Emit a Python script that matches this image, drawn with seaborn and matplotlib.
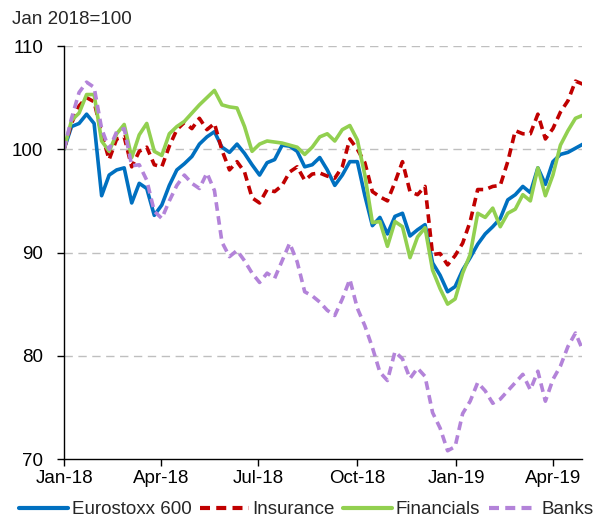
import numpy as np
import pandas as pd
import matplotlib
matplotlib.use("Agg")
import matplotlib.pyplot as plt
import matplotlib.dates as mdates
import seaborn as sns

# ---- data (weekly readings, index Jan 2018 = 100) ----
dates = pd.date_range("2018-01-01", periods=70, freq="7D")

eurostoxx = [100, 102.2, 102.5, 103.4, 102.5, 95.5, 97.5, 98, 98.2, 94.8,
             96.7, 96.2, 93.6, 94.6, 96.5, 98, 98.6, 99.3, 100.5, 101.2,
             101.7, 100.2, 99.7, 100.5, 99.6, 98.5, 97.5, 98.7, 99.0, 100.4,
             100.3, 99.8, 98.3, 98.5, 99.2, 98, 96.5, 97.5, 98.8, 98.8,
             95.5, 92.6, 93.4, 91.8, 93.5, 93.8, 91.6, 92.2, 92.7, 89,
             87.8, 86.2, 86.7, 88.3, 89.5, 90.8, 91.8, 92.5, 93.3, 95.1,
             95.6, 96.4, 95.8, 98.2, 96.6, 98.8, 99.5, 99.7, 100.1, 100.5]

insurance = [100, 102.5, 104.2, 105, 104.6, 101.5, 99, 101, 101.2, 98.3,
             99.8, 100.2, 98.5, 98.3, 100.3, 101.9, 102.6, 102, 103, 101.9,
             102.5, 99.9, 98, 98.8, 97.8, 95.3, 94.8, 96.1, 95.9, 96.5,
             97.8, 98.3, 97, 97.6, 97.7, 97.4, 97.2, 98.3, 101, 100,
             98.7, 95.9, 95.4, 95, 96.8, 98.8, 95.9, 95.6, 96.4, 89.8,
             89.9, 88.8, 89.7, 90.9, 93, 96.1, 96.1, 96.4, 96.5, 98.8,
             101.8, 101.5, 101.5, 103.4, 101, 102, 103.6, 104.7, 106.6, 106.3]

financials = [100, 102.8, 103.5, 105.3, 105.3, 100.8, 99.8, 101.5, 102.4, 99.2,
              101.4, 102.5, 99.8, 99.4, 101.5, 102.2, 102.7, 103.5, 104.3, 105.0,
              105.7, 104.3, 104.1, 104, 102.2, 99.8, 100.5, 100.8, 100.7, 100.6,
              100.4, 100.2, 99.5, 100.2, 101.2, 101.5, 100.8, 101.9, 102.3, 100.9,
              97.5, 92.9, 93, 90.6, 93, 92.5, 89.5, 91.5, 92.4, 88.3,
              86.5, 85, 85.5, 88, 89.8, 93.8, 93.4, 94.3, 92.5, 93.8,
              94.2, 95.6, 95, 98.2, 95.5, 97.5, 100.4, 101.8, 103, 103.3]

banks = [100, 103, 105.5, 106.5, 106, 102, 100, 101.7, 102, 98.4,
         98.5, 97, 94, 93.3, 95, 96.5, 97.5, 96.7, 96.2, 97.7,
         96, 91, 89.6, 90.2, 89.2, 88, 87.1, 88, 87.5, 89.2,
         90.9, 89.1, 86.2, 85.8, 85.2, 84.4, 83.9, 85.5, 87.4, 84.6,
         82.9, 80.8, 78.4, 77.6, 80.4, 79.7, 77.8, 78.8, 78, 74.5,
         73, 70.8, 71.2, 74.4, 75.6, 77.4, 76.6, 75.4, 75.8, 76.6,
         77.4, 78.2, 76.7, 78.5, 75.6, 77.7, 79, 80.9, 82.2, 80.5]

series_names = ["Eurostoxx 600", "Insurance", "Financials", "Banks"]
y_ticks = [70, 80, 90, 100, 110]
x_ticks = ["2018-01-01", "2018-04-01", "2018-07-01", "2018-10-01",
           "2019-01-01", "2019-04-01"]
x_labels = ["Jan-18", "Apr-18", "Jul-18", "Oct-18", "Jan-19", "Apr-19"]
unit_label = "Jan 2018=100"

df = pd.concat([
    pd.DataFrame({"date": dates, "value": vals, "series": name})
    for name, vals in zip(series_names, [eurostoxx, insurance, financials, banks])
])

# ---- style ----
FS = 13.5
sns.set_theme(style="white")
plt.rcParams["font.family"] = ["Liberation Sans", "DejaVu Sans"]
plt.rcParams["font.size"] = FS

palette = {"Eurostoxx 600": "#0070C0", "Insurance": "#C00000",
           "Financials": "#92D050", "Banks": "#B383D9"}
dashes = {"Eurostoxx 600": "", "Insurance": (2.4, 1.5),
          "Financials": "", "Banks": (2.4, 1.5)}

fig = plt.figure(figsize=(5.95, 5.2), dpi=100)
ax = fig.add_axes([0.1076, 0.1173, 0.8704, 0.7942])

sns.lineplot(data=df, x="date", y="value", hue="series", style="series",
             hue_order=series_names, style_order=series_names,
             palette=palette, dashes=dashes, linewidth=2.6, ax=ax,
             legend=True)

ax.set_ylim(70, 110)
ax.set_xlim(pd.Timestamp("2018-01-01"), pd.Timestamp("2019-04-28"))
ax.set_yticks(y_ticks)
ax.set_xticks(pd.to_datetime(x_ticks))
ax.set_xticklabels(x_labels)
ax.set_xlabel("")
ax.set_ylabel("")

for y in y_ticks[1:]:
    ax.axhline(y, color="#BFBFBF", lw=1.0, ls=(0, (6, 4)), zorder=0)

for s in ["top", "right"]:
    ax.spines[s].set_visible(False)
for s in ["left", "bottom"]:
    ax.spines[s].set_color("black")
    ax.spines[s].set_linewidth(1.0)

ax.tick_params(axis="both", which="both", direction="out", length=5,
               width=1.0, color="black", labelsize=FS, labelcolor="black",
               left=True, bottom=True)
ax.tick_params(axis="y", pad=10)
ax.tick_params(axis="x", pad=3)

fig.text(0.02, 0.962, unit_label, fontsize=FS, ha="left", va="center")

handles, labels = ax.get_legend_handles_labels()
leg = ax.legend(handles, labels, loc="center", bbox_to_anchor=(0.468, -0.123),
                ncol=4, frameon=False, fontsize=FS, handlelength=2.6,
                handletextpad=0.2, columnspacing=0.45, borderaxespad=0,
                borderpad=0)
for line in leg.get_lines():
    line.set_linewidth(3.0)

fig.savefig("out.png", dpi=100)
